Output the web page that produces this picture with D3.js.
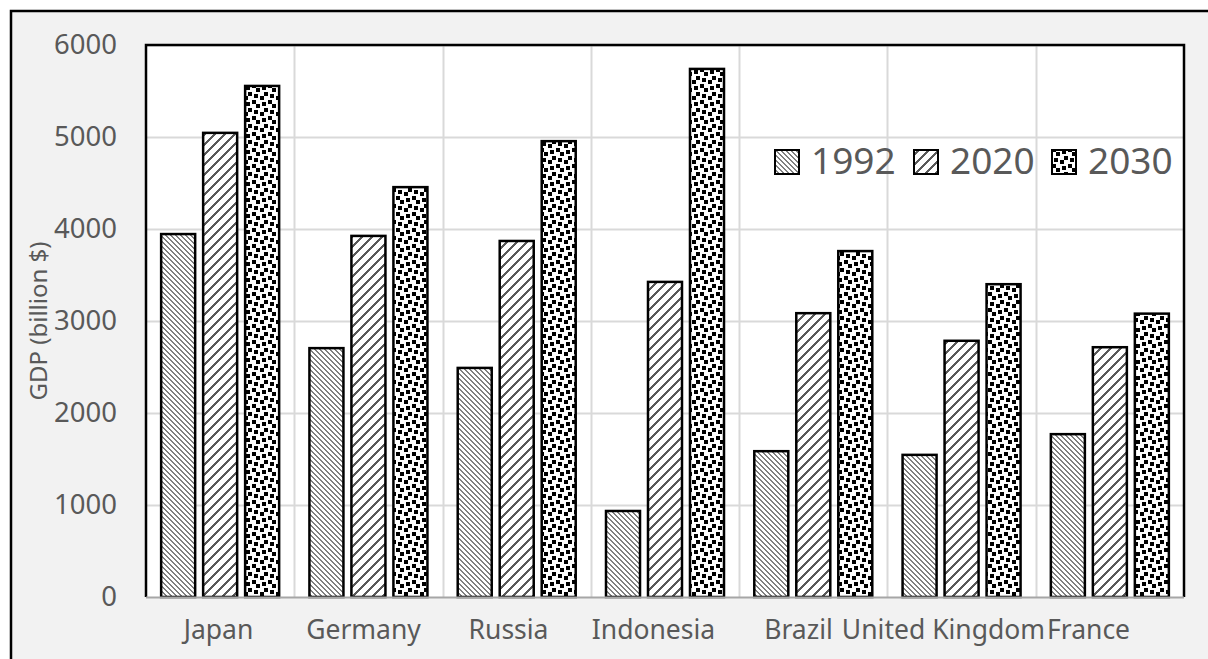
<!DOCTYPE html>
<html><head><meta charset="utf-8">
<script src="https://cdn.jsdelivr.net/npm/d3@7/dist/d3.min.js"></script>
<style>html,body{margin:0;padding:0;background:#fff;}svg{display:block;}</style>
</head><body>
<script>
const categories = ["Japan","Germany","Russia","Indonesia","Brazil","United Kingdom","France"];
const seriesNames = ["1992","2020","2030"];
const values1992 = [3945, 2705, 2490, 935, 1585, 1545, 1770];
const values2020 = [5045, 3925, 3870, 3425, 3085, 2785, 2715];
const values2030 = [5555, 4455, 4955, 5740, 3760, 3400, 3080];
const yTicks = [0,1000,2000,3000,4000,5000,6000];
const yTitle = "GDP (billion $)";

(function(){
const W = 1208, H = 659;
const font = "'Noto Sans', 'Open Sans', sans-serif";
const textCol = "#595959";
const svg = d3.select("body").append("svg").attr("width", W).attr("height", H);

const defs = svg.append("defs");
function pixPattern(id, rows, fg, bg, px){
  const size = rows.length;
  const p = defs.append("pattern").attr("id", id).attr("patternUnits","userSpaceOnUse")
    .attr("width", size*px).attr("height", size*px);
  p.append("rect").attr("width", size*px).attr("height", size*px).attr("fill", bg);
  rows.forEach((r, yy) => {
    for (let xx = 0; xx < size; xx++) if (r[xx] === "1")
      p.append("rect").attr("x", xx*px).attr("y", yy*px).attr("width",px).attr("height",px).attr("fill", fg).attr("shape-rendering","crispEdges");
  });
}
pixPattern("p1992", ["11000","01100","00110","00011","10001"], "#808080", "#ffffff", 1);
pixPattern("p2020", ["0000000111","0000001110","0000011100","0000111000","0001110000","0011100000","0111000000","1110000000","1100000001","1000000011"], "#595959", "#ffffff", 1);
pixPattern("p2030", ["10110001","00110000","00000011","00011011","11011000","11000000","00001100","10001101"], "#000000", "#ffffff", 2);
const fills = ["url(#p1992)","url(#p2020)","url(#p2030)"];

svg.append("rect").attr("x", 11).attr("y", 11).attr("width", W).attr("height", H)
  .attr("fill", "#f2f2f2").attr("stroke", "#000").attr("stroke-width", 2.5);

const pL = 146, pR = 1184, pT = 45, pB = 597;
const x0 = d3.scaleBand().domain(categories).range([pL, pR]).paddingInner(0).paddingOuter(0);
const bw = x0.bandwidth();
const groupW = 118;
const x1 = d3.scaleBand().domain(seriesNames).range([(bw - groupW)/2, (bw + groupW)/2]).paddingInner(0.19);
const y = d3.scaleLinear().domain([0, 6000]).range([pB, pT]);
// category labels in the reference sit on a slightly tighter spacing than the groups
const xLab = d3.scaleBand().domain(categories).range([pL, pR - 23]);

svg.append("rect").attr("x", pL).attr("y", pT).attr("width", pR-pL).attr("height", pB-pT).attr("fill", "#fff");

const g = svg.append("g");
g.selectAll("line.h").data(yTicks.slice(1)).join("line")
  .attr("x1", pL).attr("x2", pR).attr("y1", d => Math.round(y(d))+0.5).attr("y2", d => Math.round(y(d))+0.5)
  .attr("stroke", "#d9d9d9").attr("stroke-width", 2);
g.selectAll("line.v").data(categories.slice(1)).join("line")
  .attr("x1", d => Math.round(x0(d))+0.5).attr("x2", d => Math.round(x0(d))+0.5).attr("y1", pT).attr("y2", pB)
  .attr("stroke", "#d9d9d9").attr("stroke-width", 2);

const legX = [774, 913, 1051];
const legend = svg.append("g");
seriesNames.forEach((s, i) => {
  legend.append("rect").attr("x", legX[i]+1).attr("y", 150).attr("width", 24).attr("height", 24)
    .attr("fill", fills[i]).attr("stroke", "#000").attr("stroke-width", 2);
  legend.append("text").attr("x", legX[i] + 37).attr("y", 174).text(s)
    .attr("font-family", font).attr("font-size", 37).attr("fill", textCol);
});

const series = [values1992, values2020, values2030];
const bars = svg.append("g");
categories.forEach((c, ci) => {
  seriesNames.forEach((s, si) => {
    const v = series[si][ci];
    bars.append("rect")
      .attr("x", x0(c) + x1(s)).attr("y", y(v))
      .attr("width", x1.bandwidth()).attr("height", y(0) - y(v))
      .attr("fill", fills[si]).attr("stroke", "#000").attr("stroke-width", 2.5);
  });
});

svg.append("path").attr("d", `M${pL},${pB}V${pT}H${pR}V${pB}`)
  .attr("fill", "none").attr("stroke", "#000").attr("stroke-width", 2.5);
svg.append("line").attr("x1", pL).attr("x2", pR).attr("y1", pB+0.5).attr("y2", pB+0.5)
  .attr("stroke", "#a6a6a6").attr("stroke-width", 2);

const yAxis = svg.append("g").attr("transform", `translate(${pL},0)`)
  .call(d3.axisLeft(y).tickValues(yTicks).tickSize(0).tickPadding(29).tickFormat(d3.format("d")));
yAxis.select(".domain").remove();
yAxis.selectAll("text").attr("font-family", font).attr("font-size", 27.5).attr("fill", textCol);

const xAxis = svg.append("g").attr("transform", `translate(0,${pB})`)
  .call(d3.axisBottom(xLab).tickSize(0).tickPadding(23));
xAxis.select(".domain").remove();
xAxis.selectAll("text").attr("font-family", font).attr("font-size", 26.5).attr("fill", textCol);

svg.append("text").attr("transform", `translate(47,321) rotate(-90)`).attr("text-anchor","middle")
  .attr("font-family", font).attr("font-size", 24).attr("fill", textCol).text(yTitle);
})();
</script>
</body></html>
